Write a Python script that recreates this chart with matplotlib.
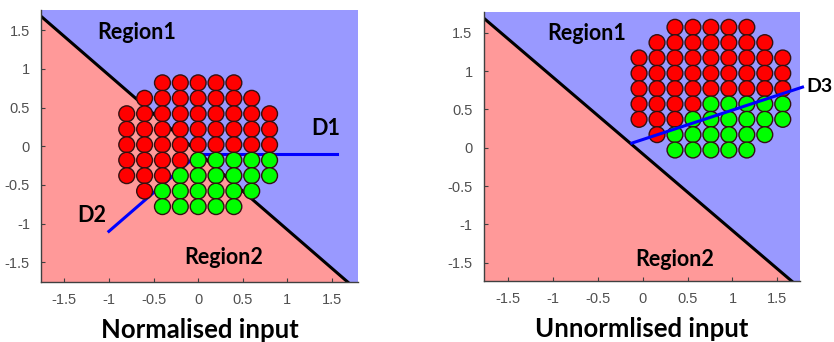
import numpy as np
import matplotlib.pyplot as plt

# grid of samples, one string per row (top to bottom), R = class 1, G = class 2
row_labels = ["  RRRRR  ",
              " RRRRRRR ",
              "RRRRRRRRR",
              "RRRRRRRRR",
              "RRRRRRRRR",
              "RRRRGGGGG",
              "RRRGGGGGG",
              " RGGGGGG ",
              "  GGGGG  "]
norm_cols = [-0.8, -0.6, -0.4, -0.2, 0.0, 0.2, 0.4, 0.6, 0.8]
norm_rows = [0.82, 0.62, 0.42, 0.22, 0.02, -0.18, -0.38, -0.58, -0.78]
raw_cols = [-0.04, 0.16, 0.36, 0.56, 0.76, 0.96, 1.16, 1.36, 1.56]
raw_rows = [1.57, 1.37, 1.17, 0.97, 0.77, 0.57, 0.37, 0.17, -0.03]

# boundary y = -x + c
boundary_c = -0.08
# blue weight directions
d1_x = [0.0, 1.55]
d1_y = [-0.1, -0.1]
d2_x = [-1.0, 0.0]
d2_y = [-1.1, -0.1]
d3_x = [-0.12, 1.78]
d3_y = [0.06, 0.79]

ticks = [-1.5, -1, -0.5, 0, 0.5, 1, 1.5]
tick_text = ['-1.5', '-1', '-0.5', '0', '0.5', '1', '1.5']

BLUE_BG = '#9999ff'
RED_BG = '#ff9999'
FONT = 'Lato'


def points(cols, rows):
    xs, ys, cs = [], [], []
    for r, line in enumerate(row_labels):
        for c, ch in enumerate(line):
            if ch == ' ':
                continue
            xs.append(cols[c])
            ys.append(rows[r])
            cs.append('#ff0000' if ch == 'R' else '#00ff00')
    return xs, ys, cs


def setup(ax, xlim, ylim, xlabel):
    xx = np.array([xlim[0] - 1, xlim[1] + 1])
    ax.fill_between(xx, -xx + boundary_c, ylim[1] + 1, color=BLUE_BG, lw=0, zorder=0)
    ax.fill_between(xx, ylim[0] - 1, -xx + boundary_c, color=RED_BG, lw=0, zorder=0)
    ax.plot(xx, -xx + boundary_c, color='black', lw=2.2, zorder=1)
    ax.set_xlim(*xlim)
    ax.set_ylim(*ylim)
    ax.set_xticks(ticks)
    ax.set_xticklabels(tick_text)
    ax.set_yticks(ticks)
    ax.set_yticklabels(tick_text)
    ax.tick_params(direction='in', length=3, color='#404040', labelcolor='#505050',
                   labelsize=10.5, pad=8)
    for lab in ax.get_xticklabels() + ax.get_yticklabels():
        lab.set_family('Liberation Sans')
    for s in ['top', 'right']:
        ax.spines[s].set_visible(False)
    for s in ['left', 'bottom']:
        ax.spines[s].set_color('#404040')
        ax.spines[s].set_linewidth(1.0)
    ax.set_xlabel(xlabel, fontsize=18.5, fontweight='bold', family=FONT, labelpad=8)


fig = plt.figure(figsize=(8.34, 3.42), dpi=100)
ax1 = fig.add_axes([0.0492, 0.1754, 0.380, 0.795])
ax2 = fig.add_axes([0.580, 0.178, 0.379, 0.787])

setup(ax1, (-1.76, 1.79), (-1.755, 1.76), 'Normalised input')
ax1.plot(d1_x, d1_y, color='#0000ff', lw=2.2, zorder=2)
ax1.plot(d2_x, d2_y, color='#0000ff', lw=2.2, zorder=2)
xs, ys, cs = points(norm_cols, norm_rows)
ax1.scatter(xs, ys, s=130, c=cs, edgecolors='#331111', linewidths=1.0, zorder=3)
kw = dict(fontsize=15.5, fontweight='bold', family=FONT, ha='center', va='center')
ax1.text(-0.69, 1.47, 'Region1', **kw)
ax1.text(0.29, -1.44, 'Region2', **kw)
ax1.text(1.43, 0.23, 'D1', **kw)
ax1.text(-1.19, -0.89, 'D2', **kw)

setup(ax2, (-1.77, 1.75), (-1.74, 1.77), 'Unnormlised input')
xs, ys, cs = points(raw_cols, raw_rows)
ax2.scatter(xs, ys, s=130, c=cs, edgecolors='#331111', linewidths=1.0, zorder=3)
ax2.plot(d3_x, d3_y, color='#0000ff', lw=2.2, zorder=4, clip_on=False)
ax2.text(-0.62, 1.49, 'Region1', **kw)
ax2.text(0.36, -1.46, 'Region2', **kw)
ax2.text(1.82, 0.80, 'D3', fontsize=14, fontweight='bold', family=FONT,
         ha='left', va='center')

fig.savefig('out.png', dpi=100)
